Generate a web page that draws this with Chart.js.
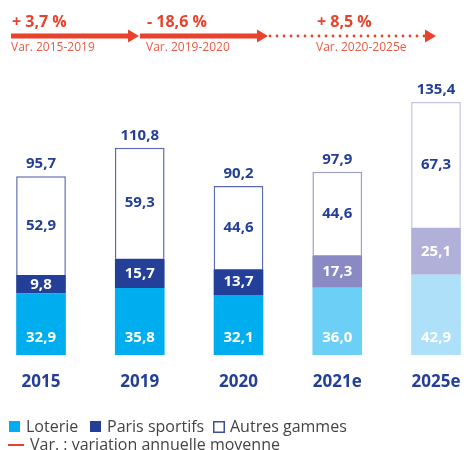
<!DOCTYPE html>
<html>
<head>
<meta charset="utf-8">
<script src="https://cdn.jsdelivr.net/npm/chart.js@4.4.0/dist/chart.umd.min.js"></script>
<style>
    body{margin:0;background:#fff;}
    canvas{display:block;}
</style>
</head>
<body>
<canvas id="graficaJeux" width="467" height="450"></canvas>
<script>
// datos
var categorias = ['2015', '2019', '2020', '2021e', '2025e'];
var loterie = [32.9, 35.8, 32.1, 36.0, 42.9];
var paris = [9.8, 15.7, 13.7, 17.3, 25.1];
var autres = [52.9, 59.3, 44.6, 44.6, 67.3];
var totaux = [95.7, 110.8, 90.2, 97.9, 135.4];
var variations = ['+ 3,7 %', '- 18,6 %', '+ 8,5 %'];
var periodes = ['Var. 2015-2019', 'Var. 2019-2020', 'Var. 2020-2025e'];
var legende = ['Loterie', 'Paris sportifs', 'Autres gammes'];
var legendeVar = 'Var. : variation annuelle moyenne';

var AZUL = '#233f98';
var ROJO = '#e8412c';
var FUENTE = '"Open Sans", sans-serif';

var fmt = function (v) {
    return v.toFixed(1).replace('.', ',');
};

var etiquetas = {
    id: 'etiquetas',
    afterDatasetsDraw: function (chart) {
        var ctx = chart.ctx;
        ctx.save();
        ctx.font = 'bold 15px ' + FUENTE;
        ctx.textAlign = 'center';
        ctx.textBaseline = 'middle';
        chart.data.datasets.forEach(function (ds, i) {
            var meta = chart.getDatasetMeta(i);
            meta.data.forEach(function (bar, j) {
                ctx.fillStyle = (i === 2) ? AZUL : '#ffffff';
                var y = (i === 0) ? bar.base - 17 : (bar.y + bar.base) / 2;
                ctx.fillText(fmt(ds.data[j]), bar.x, y);
            });
        });
        var arriba = chart.getDatasetMeta(2);
        ctx.fillStyle = AZUL;
        arriba.data.forEach(function (bar, j) {
            ctx.fillText(fmt(totaux[j]), bar.x, bar.y - 12);
        });
        // categorias bajo las barras
        ctx.font = 'bold 17px ' + FUENTE;
        categorias.forEach(function (c, j) {
            ctx.fillText(c, chart.scales.x.getPixelForValue(j), chart.chartArea.bottom + 27);
        });
        ctx.restore();
    }
};

function flecha(ctx, x1, x2, y, punteada) {
    ctx.fillStyle = ROJO;
    if (punteada) {
        for (var x = x1 + 2; x < x2 - 4; x += 7) {
            ctx.beginPath();
            ctx.arc(x, y, 1.4, 0, Math.PI * 2);
            ctx.fill();
        }
    } else {
        ctx.fillRect(x1, y - 2.5, x2 - x1 - 10, 5);
    }
    ctx.beginPath();
    ctx.moveTo(x2 - 11, y - 6.5);
    ctx.lineTo(x2, y);
    ctx.lineTo(x2 - 11, y + 6.5);
    ctx.closePath();
    ctx.fill();
}

var anotaciones = {
    id: 'anotaciones',
    afterDraw: function (chart) {
        var ctx = chart.ctx;
        ctx.save();
        // variaciones arriba
        var tramos = [[11, 139, 12], [140, 268, 147], [268, 436, 317]];
        tramos.forEach(function (t, i) {
            flecha(ctx, t[0], t[1], 36, i === 2);
            ctx.fillStyle = ROJO;
            ctx.textAlign = 'left';
            ctx.textBaseline = 'alphabetic';
            ctx.font = 'bold 16px ' + FUENTE;
            ctx.fillText(variations[i], t[2], 27);
            ctx.font = '12px ' + FUENTE;
            ctx.fillStyle = '#ea5a45';
            ctx.fillText(periodes[i], i === 0 ? 11 : t[2] - 1, 51);
        });
        // leyenda
        ctx.font = '16px ' + FUENTE;
        ctx.textBaseline = 'alphabetic';
        ctx.fillStyle = '#00aeef';
        ctx.fillRect(9, 421, 11, 11);
        ctx.fillStyle = AZUL;
        ctx.fillRect(90, 421, 11, 11);
        ctx.strokeStyle = '#3a4fa3';
        ctx.lineWidth = 1.5;
        ctx.strokeRect(213.75, 421.75, 10.5, 10.5);
        ctx.fillStyle = '#444444';
        ctx.fillText(legende[0], 26, 432);
        ctx.fillText(legende[1], 107, 432);
        ctx.fillText(legende[2], 230, 432);
        ctx.fillStyle = ROJO;
        ctx.fillRect(8, 444, 16, 2);
        ctx.fillStyle = '#444444';
        ctx.fillText(legendeVar, 30, 450);
        ctx.restore();
    }
};

var canvas = document.getElementById('graficaJeux').getContext('2d');
window.barras = new Chart(canvas, {
    type: 'bar',
    data: {
        labels: categorias,
        datasets: [{
            label: legende[0],
            data: loterie,
            backgroundColor: ['#00aeef', '#00aeef', '#00aeef', '#6ccff6', '#aee1f9'],
            borderWidth: 0
        }, {
            label: legende[1],
            data: paris,
            backgroundColor: [AZUL, AZUL, AZUL, '#8a89c3', '#b0b0d9'],
            borderWidth: 0
        }, {
            label: legende[2],
            data: autres,
            backgroundColor: '#ffffff',
            borderColor: ['#5a6ab2', '#5a6ab2', '#5a6ab2', '#9c9dcf', '#c3c4e4'],
            borderWidth: 1.5
        }]
    },
    options: {
        responsive: false,
        animation: false,
        devicePixelRatio: 1,
        layout: {padding: {left: 41, right: 31, top: 60, bottom: 95}},
        datasets: {bar: {barPercentage: 0.503, categoryPercentage: 1, clip: false}},
        plugins: {legend: {display: false}, tooltip: {enabled: false}},
        scales: {
            x: {
                stacked: true,
                offset: false,
                display: false
            },
            y: {
                stacked: true,
                display: false,
                min: 0,
                max: 157.7
            }
        }
    },
    plugins: [etiquetas, anotaciones]
});
</script>
</body>
</html>
